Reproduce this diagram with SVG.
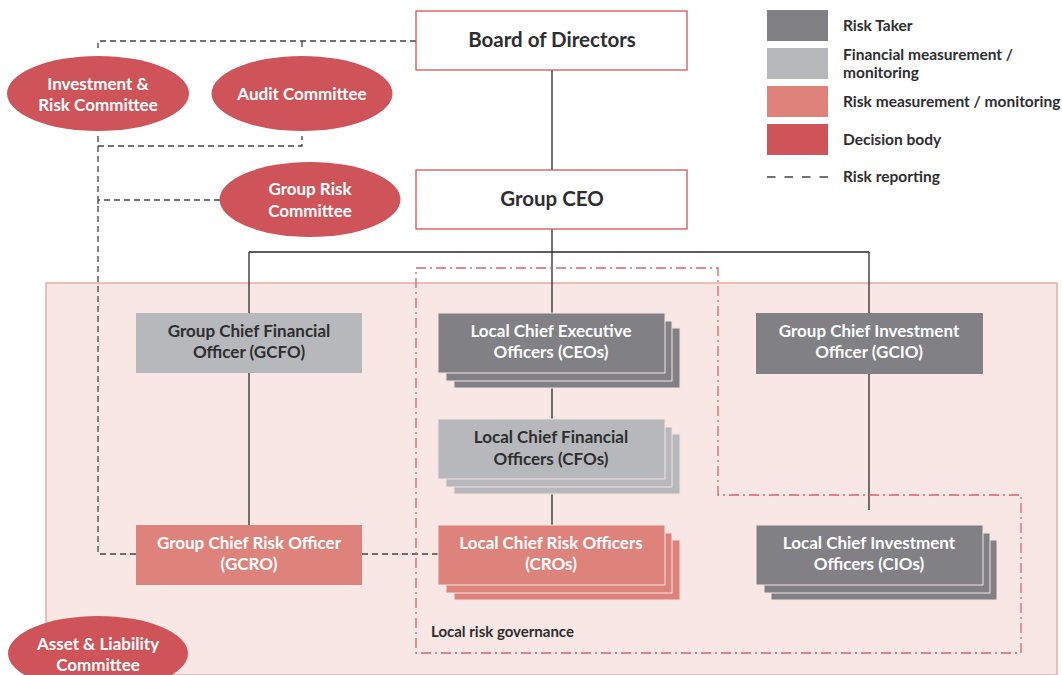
<svg xmlns="http://www.w3.org/2000/svg" width="1062" height="675" viewBox="0 0 1062 675">
<style>
text{font-family:Lato,"Open Sans","Liberation Sans",sans-serif;font-weight:bold;text-anchor:middle}
.w{fill:#ffffff;font-size:17px}
.d{fill:#2e2e30;font-size:17px}
.lg{fill:#2e2e30;font-size:15.5px;text-anchor:start}
.rt{fill:#808085}
.fm{fill:#b7b8bb}
.rm{fill:#de837c}
.db{fill:#cf5459}
.stk{stroke:#f3e4e2;stroke-width:1}
.solid{stroke:#2a2a2a;stroke-width:1.3;fill:none}
.dash{stroke:#444;stroke-width:1.3;stroke-dasharray:6 4;fill:none}
.dd{stroke:#d9626a;stroke-width:1.3;stroke-dasharray:10 4 2 4;fill:none}
</style>
<rect width="1062" height="675" fill="#ffffff"/>
<g id="local-area">
<rect x="46" y="283" width="1011" height="392" fill="#f8e7e4" stroke="#e6a09c" stroke-width="1.3"/>
</g>
<g id="connectors">
<path class="solid" d="M552 70V170M552 229V252M249 252H869M249 252V313M552 252V313M869 252V313M249 373V525M552 388V419M552 494V525M869 374V510"/>
<path class="dash" d="M416 41H98V48M302 41V48M98 136V146H302V136M98 146V554H136M220 200H98V207M362 554H439"/>
<path class="dd" d="M416 268H718V495H1021V653H416Z"/>
</g>
<g id="board">
<rect x="416" y="11" width="271" height="59" fill="#ffffff" stroke="#d0545a" stroke-width="1.3"/>
<text x="552" y="47" class="d" style="font-size:20.5px">Board of Directors</text>
</g>
<g id="ceo">
<rect x="416" y="170" width="271" height="59" fill="#ffffff" stroke="#d0545a" stroke-width="1.3"/>
<text x="552" y="206" class="d" style="font-size:20.5px">Group CEO</text>
</g>
<g id="irc">
<ellipse cx="98" cy="93.5" rx="91" ry="37.5" class="db"/>
<text x="98" y="90" class="w">Investment &amp;</text>
<text x="98" y="111" class="w">Risk Committee</text>
</g>
<g id="audit">
<ellipse cx="302" cy="93.5" rx="90.5" ry="37.5" class="db"/>
<text x="302" y="100" class="w">Audit Committee</text>
</g>
<g id="grc">
<ellipse cx="310" cy="199.5" rx="90.5" ry="37.5" class="db"/>
<text x="310" y="195" class="w">Group Risk</text>
<text x="310" y="217" class="w">Committee</text>
</g>
<g id="alc">
<ellipse cx="98" cy="653.5" rx="90" ry="37.5" class="db"/>
<text x="98" y="650" class="w">Asset &amp; Liability</text>
<text x="98" y="671" class="w">Committee</text>
</g>
<g id="gcfo">
<rect x="136" y="313" width="226" height="60" class="fm"/>
<text x="249" y="337" class="d">Group Chief Financial</text>
<text x="249" y="358" class="d">Officer (GCFO)</text>
</g>
<g id="lceo">
<rect x="454" y="328" width="226" height="60" class="rt stk"/>
<rect x="446" y="321" width="226" height="60" class="rt stk"/>
<rect x="438" y="313" width="227" height="60" class="rt stk"/>
<text x="551" y="337" class="w">Local Chief Executive</text>
<text x="551" y="358" class="w">Officers (CEOs)</text>
</g>
<g id="lcfo">
<rect x="454" y="434" width="226" height="60" class="fm stk"/>
<rect x="446" y="427" width="226" height="60" class="fm stk"/>
<rect x="438" y="419" width="227" height="60" class="fm stk"/>
<text x="551" y="443" class="d">Local Chief Financial</text>
<text x="551" y="465" class="d">Officers (CFOs)</text>
</g>
<g id="gcio">
<rect x="756" y="313" width="227" height="61" class="rt"/>
<text x="869" y="337" class="w">Group Chief Investment</text>
<text x="869" y="358" class="w">Officer (GCIO)</text>
</g>
<g id="gcro">
<rect x="136" y="525" width="226" height="60" class="rm"/>
<text x="249" y="549" class="w">Group Chief Risk Officer</text>
<text x="249" y="570" class="w">(GCRO)</text>
</g>
<g id="lcro">
<rect x="454" y="540" width="226" height="60" class="rm stk"/>
<rect x="446" y="533" width="226" height="60" class="rm stk"/>
<rect x="438" y="525" width="227" height="60" class="rm stk"/>
<text x="551" y="549" class="w">Local Chief Risk Officers</text>
<text x="551" y="570" class="w">(CROs)</text>
</g>
<g id="lcio">
<rect x="771" y="540" width="226" height="60" class="rt stk"/>
<rect x="764" y="533" width="226" height="60" class="rt stk"/>
<rect x="756" y="525" width="227" height="60" class="rt stk"/>
<text x="869" y="549" class="w">Local Chief Investment</text>
<text x="869" y="570" class="w">Officers (CIOs)</text>
</g>
<g id="lrg-label">
<text x="431" y="637" class="lg" style="font-size:15px">Local risk governance</text>
</g>
<g id="legend">
<rect x="767" y="10" width="61" height="31" class="rt"/>
<rect x="767" y="48" width="61" height="31" class="fm"/>
<rect x="767" y="86" width="61" height="31" class="rm"/>
<rect x="767" y="124" width="61" height="31" class="db"/>
<path class="dash" d="M767 177H828" style="stroke-dasharray:8.5 9"/>
<text x="843" y="31" class="lg">Risk Taker</text>
<text x="843" y="60" class="lg">Financial measurement /</text>
<text x="843" y="78" class="lg">monitoring</text>
<text x="843" y="107" class="lg">Risk measurement / monitoring</text>
<text x="843" y="145" class="lg">Decision body</text>
<text x="843" y="182" class="lg">Risk reporting</text>
</g>
</svg>
